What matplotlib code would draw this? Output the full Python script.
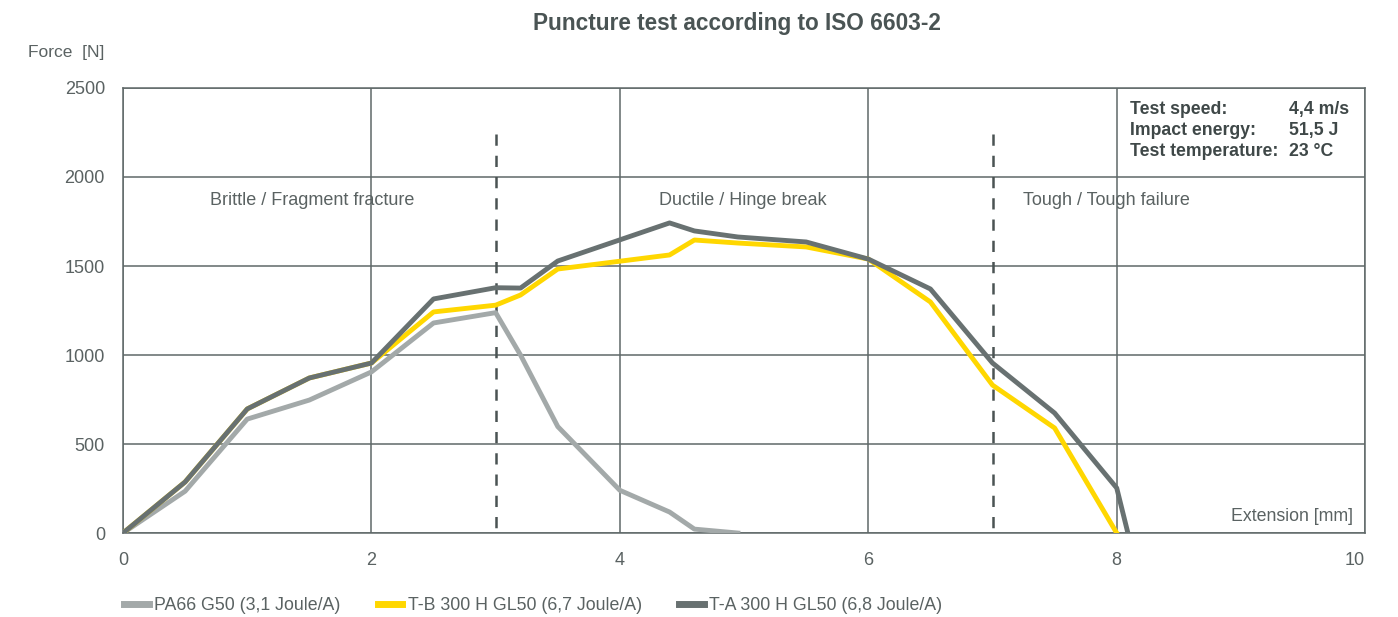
import matplotlib.pyplot as plt
from matplotlib.lines import Line2D

plt.rcParams['font.family'] = ['Liberation Sans', 'DejaVu Sans']

# extension [mm] and force [N]
x_pa66 = [0, 0.5, 1.0, 1.5, 2.0, 2.5, 3.0, 3.2, 3.5, 4.0, 4.4, 4.6, 4.95]
f_pa66 = [0, 235, 640, 747, 905, 1180, 1238, 1000, 598, 240, 118, 22, 0]

x_tb = [0, 0.5, 1.0, 1.5, 2.0, 2.5, 3.0, 3.2, 3.5, 4.4, 4.6, 4.95, 5.5, 6.0, 6.5, 7.0, 7.5, 8.0]
f_tb = [0, 287, 697, 871, 955, 1242, 1280, 1337, 1483, 1562, 1646, 1629, 1607, 1539, 1298, 831, 590, 0]

x_ta = [0, 0.5, 1.0, 1.5, 2.0, 2.5, 3.0, 3.2, 3.5, 4.4, 4.6, 4.95, 5.5, 6.0, 6.5, 7.0, 7.5, 8.0, 8.09]
f_ta = [0, 287, 697, 871, 955, 1315, 1378, 1376, 1528, 1742, 1697, 1663, 1635, 1539, 1371, 955, 674, 253, 0]

labels = ['PA66 G50 (3,1 Joule/A)', 'T-B 300 H GL50 (6,7 Joule/A)', 'T-A 300 H GL50 (6,8 Joule/A)']
colors = ['#a3a9a9', '#ffd700', '#687171']

xticks = [0, 2, 4, 6, 8, 10]
yticks = [0, 500, 1000, 1500, 2000, 2500]
zones = ['Brittle / Fragment fracture', 'Ductile / Hinge break', 'Tough / Tough failure']
zone_x = [1.52, 4.99, 7.92]
zone_bounds = [3, 7]
info_keys = ['Test speed:', 'Impact energy:', 'Test temperature:']
info_vals = ['4,4 m/s', '51,5 J', '23 °C']

grid_c = '#5f6868'
text_c = '#5a6262'

fig = plt.figure(figsize=(13.98, 6.17), dpi=100)
ax = fig.add_axes([0.088, 0.1361, 0.8885, 0.7213])

ax.set_xlim(0, 10)
ax.set_ylim(0, 2500)
ax.set_xticks(xticks)
ax.set_yticks(yticks)
ax.tick_params(length=0, labelsize=13, colors=text_c)
ax.tick_params(axis='x', pad=14)
ax.tick_params(axis='y', pad=13)
ax.get_xticklabels()[-1].set_horizontalalignment('right')
ax.grid(True, color=grid_c, linewidth=1.1)
ax.set_axisbelow(True)
for s in ax.spines.values():
    s.set_color(grid_c)
    s.set_linewidth(1.1)

for xb in zone_bounds:
    ax.plot([xb, xb], [2240, 0], color='#4a5353', linewidth=1.8, linestyle=(0, (4.5, 4)), zorder=2)

ax.plot(x_pa66, f_pa66, color=colors[0], linewidth=3.5, zorder=3)
ax.plot(x_tb, f_tb, color=colors[1], linewidth=3.5, zorder=4)
ax.plot(x_ta, f_ta, color=colors[2], linewidth=3.5, zorder=5)

for zx, zt in zip(zone_x, zones):
    ax.text(zx, 1870, zt, ha='center', va='center', fontsize=13, color=text_c)

for i, (k, v) in enumerate(zip(info_keys, info_vals)):
    yy = 2380 - i * 118
    ax.text(8.11, yy, k, ha='left', va='center', fontsize=12.7, fontweight='bold', color='#3f4848')
    ax.text(9.39, yy, v, ha='left', va='center', fontsize=12.7, fontweight='bold', color='#3f4848')

ax.text(9.9, 95, 'Extension [mm]', ha='right', va='center', fontsize=12.8, color=text_c)

fig.text(0.0745, 0.915, 'Force  [N]', ha='right', va='center', fontsize=12.5, color=text_c)
fig.text(0.527, 0.962, 'Puncture test according to ISO 6603-2', ha='center', va='center',
         fontsize=16.3, fontweight='bold', color='#4a5454')

handles = [Line2D([], [], color=c, linewidth=5) for c in colors]
fig.legend(handles, labels, loc='center left', bbox_to_anchor=(0.077, 0.018), ncol=3,
           frameon=False, fontsize=12.8, handlelength=1.4, handletextpad=0.3, columnspacing=2.1,
           labelcolor=text_c)

fig.savefig('out.png', dpi=100)
